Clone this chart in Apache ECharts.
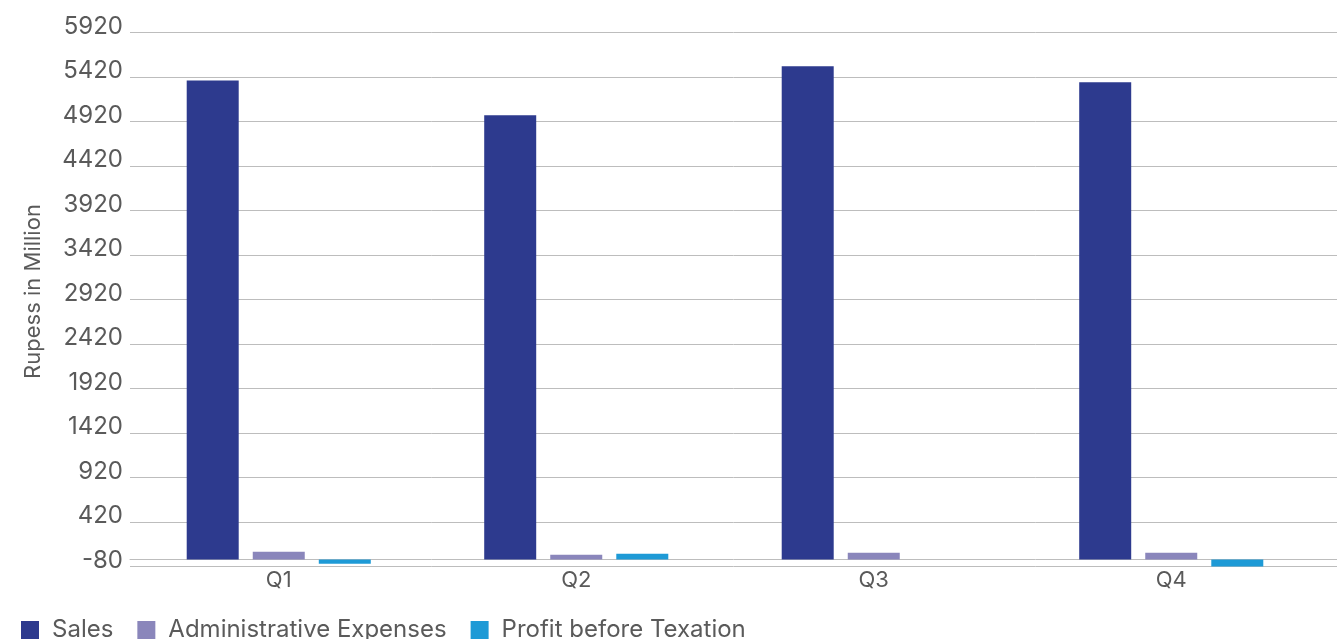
<!DOCTYPE html>
<html>
<head>
<meta charset="utf-8">
<script src="https://cdn.jsdelivr.net/npm/echarts@6/dist/echarts.min.js"></script>
<style>
  html, body { margin: 0; padding: 0; background: #ffffff; }
  #chart { width: 1337px; height: 639px; }
</style>
</head>
<body>
<div id="chart"></div>
<script>
// Quarterly figures, Rupees in million
const quarters = ['Q1', 'Q2', 'Q3', 'Q4'];
const sales = [5380, 4990, 5540, 5360];
const adminExpenses = [87, 53, 75, 75];
const profitBeforeTax = [-48, 64, 0, -79];

// Value axis range and step
const axisMin = -80;
const axisMax = 5920;
const axisStep = 500;

const seriesNames = ['Sales', 'Administrative Expenses', 'Profit before Texation'];
const seriesColors = ['#2d3a8e', '#8a86bb', '#1e9ad6'];

const textColor = '#5a5a5a';
const lineColor = '#bdbdbd';
const fontFamily = 'Inter, "Open Sans", sans-serif';

const chart = echarts.init(document.getElementById('chart'), null, { renderer: 'canvas' });

const gridTop = 32.5;
const gridBottom = 72.5;

chart.setOption({
  backgroundColor: '#ffffff',
  animation: false,
  textStyle: { fontFamily: fontFamily },
  legend: {
    data: seriesNames,
    left: 21,
    top: 618,
    padding: 0,
    itemWidth: 18,
    itemHeight: 18,
    itemGap: 24,
    icon: 'rect',
    textStyle: {
      color: textColor,
      fontSize: 24,
      fontFamily: fontFamily,
      padding: [0, 0, 0, 8]
    }
  },
  grid: [
    // bars
    { left: 130, right: 17, top: gridTop, bottom: gridBottom, containLabel: false },
    // full-width rules behind the bars
    { left: 130, right: 0, top: gridTop, bottom: gridBottom, containLabel: false }
  ],
  xAxis: [
    {
      gridIndex: 0,
      type: 'category',
      data: quarters,
      axisLine: { show: false, onZero: true },
      axisTick: { show: false },
      axisLabel: {
        color: textColor,
        fontSize: 22,
        fontFamily: fontFamily,
        margin: 3
      },
      splitLine: { show: false }
    },
    {
      gridIndex: 1,
      type: 'category',
      data: quarters,
      axisLine: { show: true, onZero: true, lineStyle: { color: lineColor, width: 1 } },
      axisTick: { show: false },
      axisLabel: { show: false },
      splitLine: { show: false }
    }
  ],
  yAxis: [
    {
      gridIndex: 0,
      type: 'value',
      min: axisMin,
      max: axisMax,
      interval: axisStep,
      name: 'Rupess in Million',
      nameLocation: 'middle',
      nameGap: 86,
      nameTextStyle: {
        color: textColor,
        fontSize: 22,
        fontFamily: fontFamily,
        padding: [0, 0, 0, 16]
      },
      axisLine: { show: false },
      axisTick: { show: false },
      axisLabel: {
        color: textColor,
        fontSize: 24,
        fontFamily: fontFamily,
        margin: 7,
        verticalAlign: 'bottom',
        lineHeight: 12,
        formatter: function (v) { return String(v); }
      },
      splitLine: { show: false }
    },
    {
      gridIndex: 1,
      type: 'value',
      min: axisMin,
      max: axisMax,
      interval: axisStep,
      axisLine: { show: false },
      axisTick: { show: false },
      axisLabel: { show: false },
      splitLine: { show: true, lineStyle: { color: lineColor, width: 1 } }
    }
  ],
  series: [
    {
      name: seriesNames[0], type: 'bar', xAxisIndex: 0, yAxisIndex: 0,
      data: sales, barWidth: 52, barGap: '27%',
      itemStyle: { color: seriesColors[0] }
    },
    {
      name: seriesNames[1], type: 'bar', xAxisIndex: 0, yAxisIndex: 0,
      data: adminExpenses, barWidth: 52, barGap: '27%',
      itemStyle: { color: seriesColors[1] }
    },
    {
      name: seriesNames[2], type: 'bar', xAxisIndex: 0, yAxisIndex: 0,
      data: profitBeforeTax, barWidth: 52, barGap: '27%',
      itemStyle: { color: seriesColors[2] }
    }
  ]
});
</script>
</body>
</html>
